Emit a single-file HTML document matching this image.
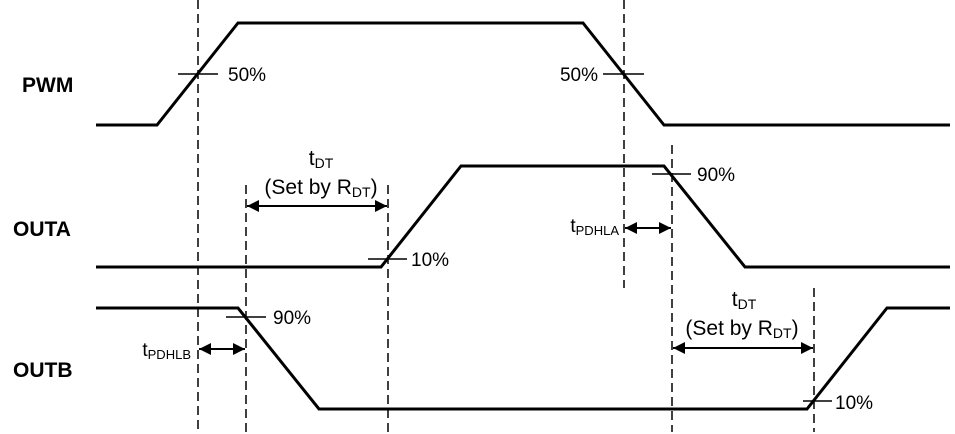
<!DOCTYPE html>
<html><head><style>body{margin:0;background:#fff}svg{display:block}</style></head><body>
<svg width="955" height="434" viewBox="0 0 955 434" xmlns="http://www.w3.org/2000/svg" font-family="Liberation Sans, Arial, sans-serif">
<defs>
<marker id="a" viewBox="0 0 10 10" refX="10" refY="5" markerWidth="18" markerHeight="12" markerUnits="userSpaceOnUse" orient="auto-start-reverse"><path d="M0,0 L10,5 L0,10 z" fill="#000"/></marker>
</defs>
<g fill="none" stroke="#000" stroke-width="3" stroke-linejoin="miter">
<polyline points="96,125 157,125 238,23 583,23 664,125 950,125"/>
<polyline points="96,267 381,267 461,166 664,166 745,267 950,267"/>
<polyline points="96,308 238,308 319,409 807,409 887,308 950,308"/>
</g>
<g stroke="#000" stroke-width="1.5" stroke-dasharray="9,5">
<line x1="198" y1="0" x2="198" y2="432"/>
<line x1="624" y1="0" x2="624" y2="288"/>
<line x1="246" y1="185" x2="246" y2="432"/>
<line x1="388" y1="185" x2="388" y2="432"/>
<line x1="672" y1="145" x2="672" y2="432"/>
<line x1="814" y1="288" x2="814" y2="432"/>
</g>
<g stroke="#000" stroke-width="1.5">
<line x1="178" y1="74" x2="218" y2="74"/>
<line x1="603" y1="74" x2="644" y2="74"/>
<line x1="368" y1="259" x2="407" y2="259"/>
<line x1="652" y1="174" x2="691" y2="174"/>
<line x1="226" y1="317" x2="266" y2="317"/>
<line x1="803" y1="401" x2="832" y2="401"/>
</g>
<g stroke="#000" stroke-width="2">
<line x1="247" y1="206" x2="387" y2="206" marker-start="url(#a)" marker-end="url(#a)"/>
<line x1="625" y1="228" x2="671" y2="228" marker-start="url(#a)" marker-end="url(#a)"/>
<line x1="199" y1="349" x2="245" y2="349" marker-start="url(#a)" marker-end="url(#a)"/>
<line x1="673" y1="348" x2="813" y2="348" marker-start="url(#a)" marker-end="url(#a)"/>
</g>
<g font-weight="bold" font-size="21">
<text x="22" y="92">PWM</text>
<text x="13" y="236">OUTA</text>
<text x="13" y="377">OUTB</text>
</g>
<g font-size="19">
<text x="228" y="81">50%</text>
<text x="598" y="81" text-anchor="end">50%</text>
<text x="411" y="266">10%</text>
<text x="697" y="181">90%</text>
<text x="273" y="324">90%</text>
<text x="835" y="409">10%</text>
<text x="619" y="232" text-anchor="end">t<tspan font-size="13" dy="3">PDHLA</tspan></text>
<text x="191" y="356" text-anchor="end">t<tspan font-size="13" dy="3">PDHLB</tspan></text>
</g>
<g font-size="21">
<text x="321" y="165" text-anchor="middle">t<tspan font-size="14" dy="3">DT</tspan></text>
<text x="321" y="194" text-anchor="middle">(Set by R<tspan font-size="14" dy="3">DT</tspan><tspan dy="-3">)</tspan></text>
<text x="744" y="306" text-anchor="middle">t<tspan font-size="14" dy="3">DT</tspan></text>
<text x="742" y="335" text-anchor="middle">(Set by R<tspan font-size="14" dy="3">DT</tspan><tspan dy="-3">)</tspan></text>
</g>
</svg>
</body></html>
